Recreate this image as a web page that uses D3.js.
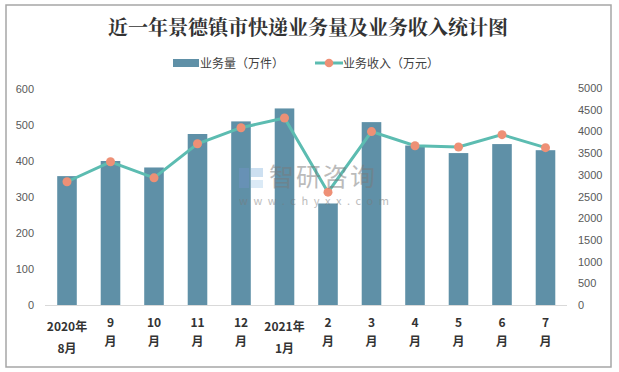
<!DOCTYPE html>
<html>
<head>
<meta charset="utf-8">
<script src="https://cdn.jsdelivr.net/npm/d3@7"></script>
<style>
  html, body { margin: 0; padding: 0; background: #fff; }
  svg { display: block; }
</style>
</head>
<body>
<svg id="chart" width="619" height="372"></svg>
<script>
// ---- data ----
const categories = ["2020年8月","9月","10月","11月","12月","2021年1月","2月","3月","4月","5月","6月","7月"];
const labelLine1 = ["2020年","9","10","11","12","2021年","2","3","4","5","6","7"];
const labelLine2 = ["8月","月","月","月","月","1月","月","月","月","月","月","月"];
const volume = [358, 400, 382, 475, 510, 546, 282, 508, 443, 422, 447, 430];      // 业务量（万件）
const revenue = [2840, 3300, 2930, 3715, 4085, 4310, 2600, 3995, 3670, 3640, 3925, 3625]; // 业务收入（万元）
const leftTicks = [0, 100, 200, 300, 400, 500, 600];
const rightTicks = [0, 500, 1000, 1500, 2000, 2500, 3000, 3500, 4000, 4500, 5000];
const title = "近一年景德镇市快递业务量及业务收入统计图";
const seriesNames = ["业务量（万件）", "业务收入（万元）"];

const svg = d3.select("#chart");
const font = "'Noto Sans CJK SC', 'Noto Sans', sans-serif";

// outer border
svg.append("rect").attr("x", 6).attr("y", 5).attr("width", 605).attr("height", 362)
  .attr("fill", "#fff").attr("stroke", "#a6a6a6").attr("stroke-width", 1.5);

const x = d3.scaleBand().domain(categories).range([45.25, 567.25]).paddingInner(0.55).paddingOuter(0.275);
const yL = d3.scaleLinear().domain([0, 600]).range([305, 89]);
const yR = d3.scaleLinear().domain([0, 5000]).range([305, 88]);

// title
svg.append("text").attr("x", 308).attr("y", 35).attr("text-anchor", "middle")
  .attr("font-family", "'Noto Serif CJK SC', 'Noto Sans CJK SC', serif")
  .attr("font-weight", "bold").attr("font-size", 20).attr("fill", "#333")
  .text(title);

// legend
const lg = svg.append("g").attr("font-family", font).attr("font-size", 12).attr("fill", "#404040");
lg.append("rect").attr("x", 173).attr("y", 59).attr("width", 26).attr("height", 8).attr("fill", "#5f90a7");
lg.append("text").attr("x", 200).attr("y", 67.5).text(seriesNames[0]);
lg.append("line").attr("x1", 315).attr("x2", 343).attr("y1", 63).attr("y2", 63)
  .attr("stroke", "#5cbcb1").attr("stroke-width", 3);
lg.append("circle").attr("cx", 329).attr("cy", 63).attr("r", 4.3).attr("fill", "#ee9076");
lg.append("text").attr("x", 343).attr("y", 67.5).text(seriesNames[1]);

// baseline
svg.append("line").attr("x1", 45).attr("x2", 567).attr("y1", 305.5).attr("y2", 305.5)
  .attr("stroke", "#d9d9d9").attr("stroke-width", 1);

// bars
svg.append("g").selectAll("rect").data(volume).join("rect")
  .attr("x", (d, i) => x(categories[i]))
  .attr("width", x.bandwidth())
  .attr("y", d => yL(d))
  .attr("height", d => yL(0) - yL(d))
  .attr("fill", "#5f90a7");

// left axis
const axL = svg.append("g").attr("transform", "translate(34,0)")
  .call(d3.axisLeft(yL).tickValues(leftTicks).tickSize(0).tickPadding(0).tickFormat(d3.format("d")));
axL.select(".domain").remove();
axL.selectAll("text").attr("font-family", "'Liberation Sans', Arial, sans-serif").attr("font-size", 11).attr("fill", "#595959");

// right axis
const axR = svg.append("g").attr("transform", "translate(578,0)")
  .call(d3.axisRight(yR).tickValues(rightTicks).tickSize(0).tickPadding(0).tickFormat(d3.format("d")));
axR.select(".domain").remove();
axR.selectAll("text").attr("font-family", "'Liberation Sans', Arial, sans-serif").attr("font-size", 11).attr("fill", "#595959");

// line
const cx = (d, i) => x(categories[i]) + x.bandwidth() / 2;
svg.append("path").datum(revenue)
  .attr("d", d3.line().x(cx).y(d => yR(d)))
  .attr("fill", "none").attr("stroke", "#5cbcb1").attr("stroke-width", 3);
svg.append("g").selectAll("circle").data(revenue).join("circle")
  .attr("cx", cx).attr("cy", d => yR(d)).attr("r", 4.5).attr("fill", "#ee9076");

// watermark (on top, semi-transparent)
const wm = svg.append("g").attr("opacity", 0.5);
wm.append("rect").attr("x", 239).attr("y", 168).attr("width", 10).attr("height", 20).attr("fill", "#6f93c4");
wm.append("rect").attr("x", 251).attr("y", 168).attr("width", 12).attr("height", 9).attr("fill", "#9cc3e4");
wm.append("rect").attr("x", 251).attr("y", 180).attr("width", 12).attr("height", 8).attr("fill", "#b8d6ee");
wm.append("text").attr("x", 269).attr("y", 186).attr("font-family", font).attr("font-size", 25)
  .attr("letter-spacing", "2px").attr("fill", "#7a7a7a").text("智研咨询");
wm.append("text").attr("x", 239).attr("y", 205).attr("font-family", font).attr("font-size", 11)
  .attr("letter-spacing", "5.6px").attr("fill", "#7a7a7a").text("www.chyxx.com");

// x labels
const xl = svg.append("g").attr("font-family", font).attr("font-weight", "bold")
  .attr("font-size", 12).attr("fill", "#333").attr("text-anchor", "middle");
categories.forEach((c, i) => {
  const cxp = x(c) + x.bandwidth() / 2;
  const hasYear = labelLine1[i].includes("年");
  xl.append("text").attr("x", cxp).attr("y", hasYear ? 330.5 : 327).text(labelLine1[i]);
  xl.append("text").attr("x", cxp).attr("y", hasYear ? 353 : 346).text(labelLine2[i]);
});
</script>
</body>
</html>
